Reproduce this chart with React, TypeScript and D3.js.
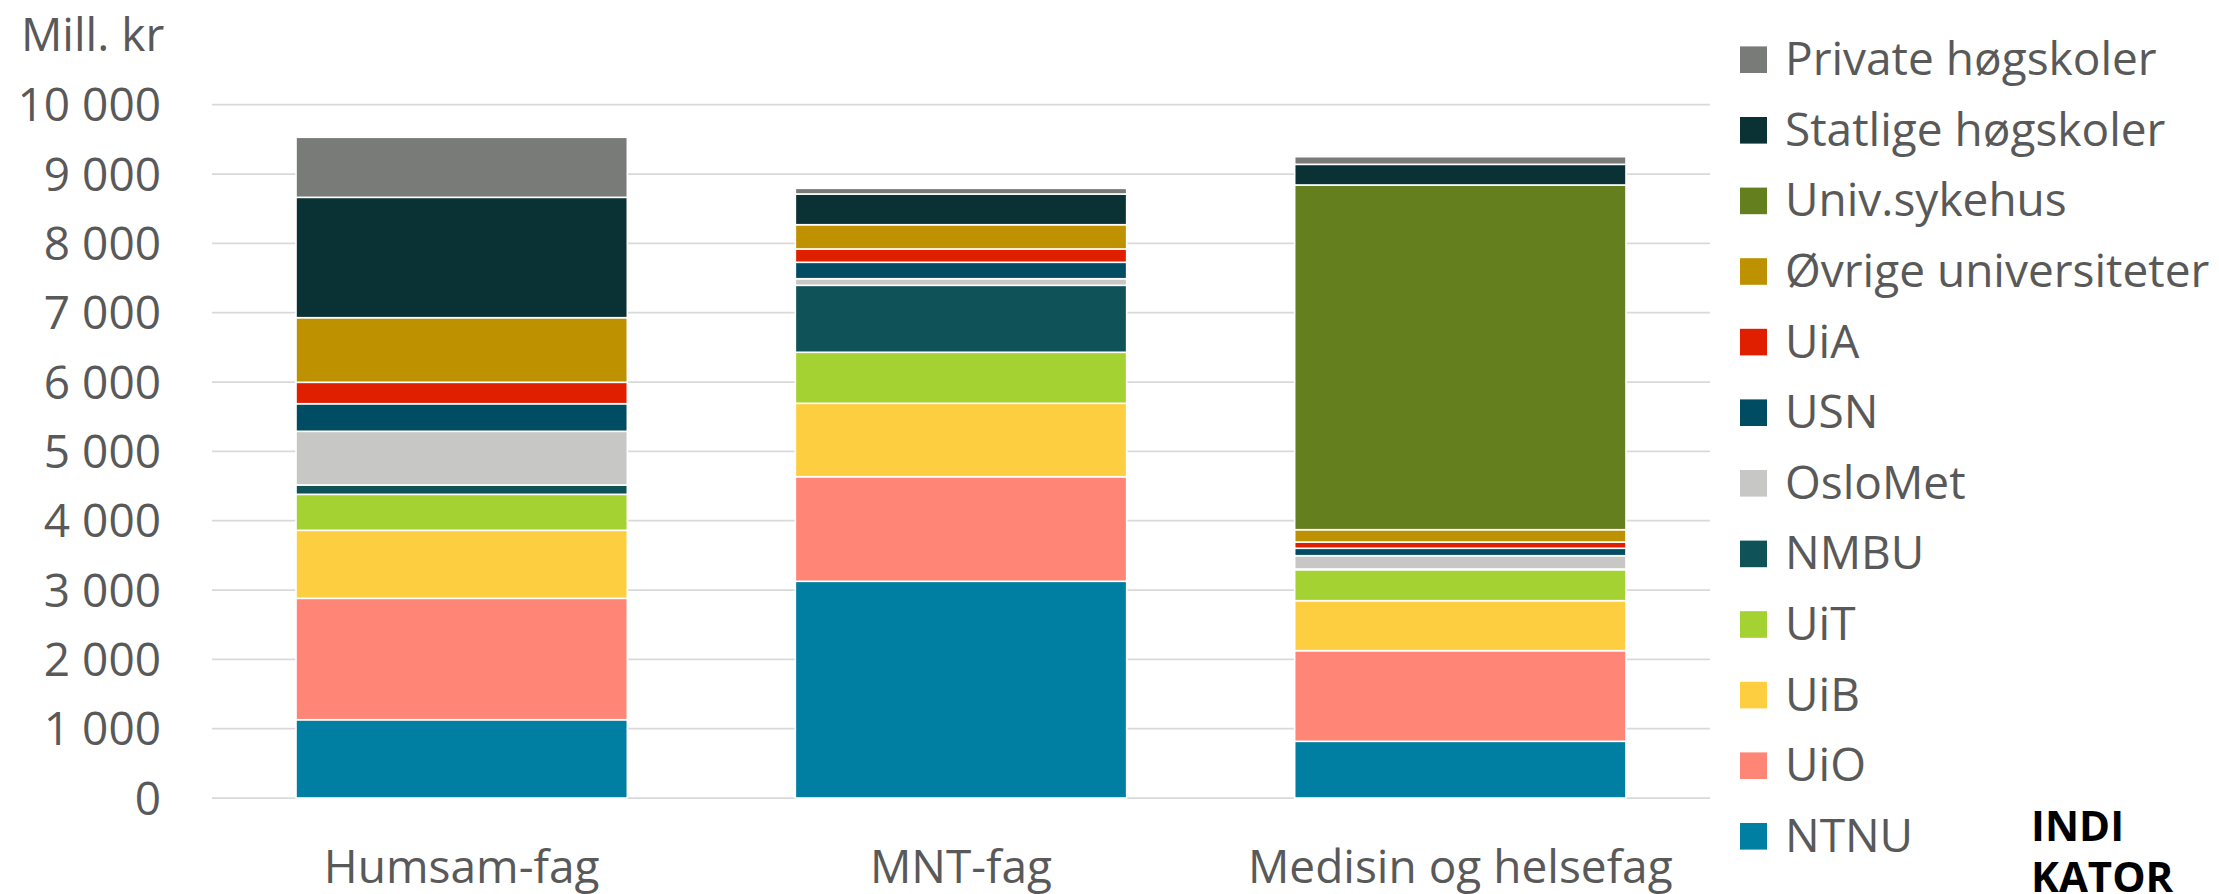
import React from "react";
import * as d3 from "d3";

const categories = ["Humsam-fag", "MNT-fag", "Medisin og helsefag"];

// Series listed bottom-to-top in the stack
const seriesNames = [
  "NTNU",
  "UiO",
  "UiB",
  "UiT",
  "NMBU",
  "OsloMet",
  "USN",
  "UiA",
  "Øvrige universiteter",
  "Univ.sykehus",
  "Statlige høgskoler",
  "Private høgskoler",
];

const NTNU = [1129, 3126, 818];
const UiO = [1751, 1508, 1307];
const UiB = [981, 1059, 721];
const UiT = [519, 736, 447];
const NMBU = [135, 966, 10];
const OsloMet = [774, 95, 192];
const USN = [398, 237, 107];
const UiA = [309, 192, 90];
const Ovrige = [932, 350, 178];
const UnivSykehus = [0, 0, 4972];
const Statlige = [1736, 443, 298];
const Private = [866, 82, 110];

const seriesValues = [NTNU, UiO, UiB, UiT, NMBU, OsloMet, USN, UiA, Ovrige, UnivSykehus, Statlige, Private];

const seriesColors = [
  "#007FA3",
  "#FF8576",
  "#FDCF40",
  "#A4D233",
  "#0F5358",
  "#C7C8C5",
  "#004C63",
  "#DF1F00",
  "#BE9100",
  "#647F1E",
  "#0A3235",
  "#787B77",
];

const yTicks = [0, 1000, 2000, 3000, 4000, 5000, 6000, 7000, 8000, 9000, 10000];
const yTickLabels = ["0", "1 000", "2 000", "3 000", "4 000", "5 000", "6 000", "7 000", "8 000", "9 000", "10 000"];

const W = 2219;
const H = 894;
const FONT = "'Open Sans', 'DejaVu Sans', sans-serif";
const TEXT = "#595959";

export default function App() {
  const x = d3
    .scaleBand<string>()
    .domain(categories)
    .range([212, 1710])
    .paddingInner(0.3365)
    .paddingOuter(0.3365 / 2);
  const y = d3.scaleLinear().domain([0, 10000]).range([798, 104.7]);

  const table = categories.map((c, i) => {
    const row: Record<string, any> = { cat: c };
    seriesNames.forEach((s, j) => (row[s] = seriesValues[j][i]));
    return row;
  });
  const stacked = d3.stack<any>().keys(seriesNames)(table);

  const legendOrder = seriesNames.map((_, i) => i).reverse();

  return (
    <svg
      width={W}
      height={H}
      style={{ position: "absolute", left: 0, top: 0, display: "block", background: "#fff" }}
      fontFamily={FONT}
    >
      <rect x={0} y={0} width={W} height={H} fill="#fff" />
      {/* gridlines */}
      {yTicks.map((t) => (
        <line key={t} x1={212} x2={1710} y1={y(t)} y2={y(t)} stroke="#D9D9D9" strokeWidth={1.75} />
      ))}
      {/* y tick labels */}
      {yTicks.map((t, i) => (
        <text key={t} x={161} y={y(t) + 16.5} textAnchor="end" fontSize={46} fill={TEXT}>
          {yTickLabels[i]}
        </text>
      ))}
      <text x={21} y={51} fontSize={46} fill={TEXT}>
        Mill. kr
      </text>
      {/* bars */}
      {stacked.map((layer, si) =>
        layer.map((d, ci) => {
          const h = y(d[0]) - y(d[1]);
          if (h <= 0) return null;
          return (
            <rect
              key={si + "-" + ci}
              x={x(categories[ci])!}
              y={y(d[1])}
              width={x.bandwidth()}
              height={h}
              fill={seriesColors[si]}
              stroke="#fff"
              strokeWidth={1.6}
            />
          );
        })
      )}
      {/* category labels */}
      {categories.map((c) => (
        <text key={c} x={x(c)! + x.bandwidth() / 2} y={883} textAnchor="middle" fontSize={46} fill={TEXT}>
          {c}
        </text>
      ))}
      {/* legend */}
      {legendOrder.map((si, k) => {
        const cy = 59.7 + k * 70.6;
        return (
          <g key={seriesNames[si]}>
            <rect x={1740} y={cy - 13.3} width={27} height={26.6} fill={seriesColors[si]} />
            <text x={1785} y={cy + 15.5} fontSize={46} fill={TEXT}>
              {seriesNames[si]}
            </text>
          </g>
        );
      })}
      {/* logo text */}
      <text x={2031} y={841} fontSize={42} fontWeight="bold" fill="#000">
        INDI
      </text>
      <text x={2031} y={892} fontSize={42} fontWeight="bold" fill="#000">
        KATOR
      </text>
    </svg>
  );
}
